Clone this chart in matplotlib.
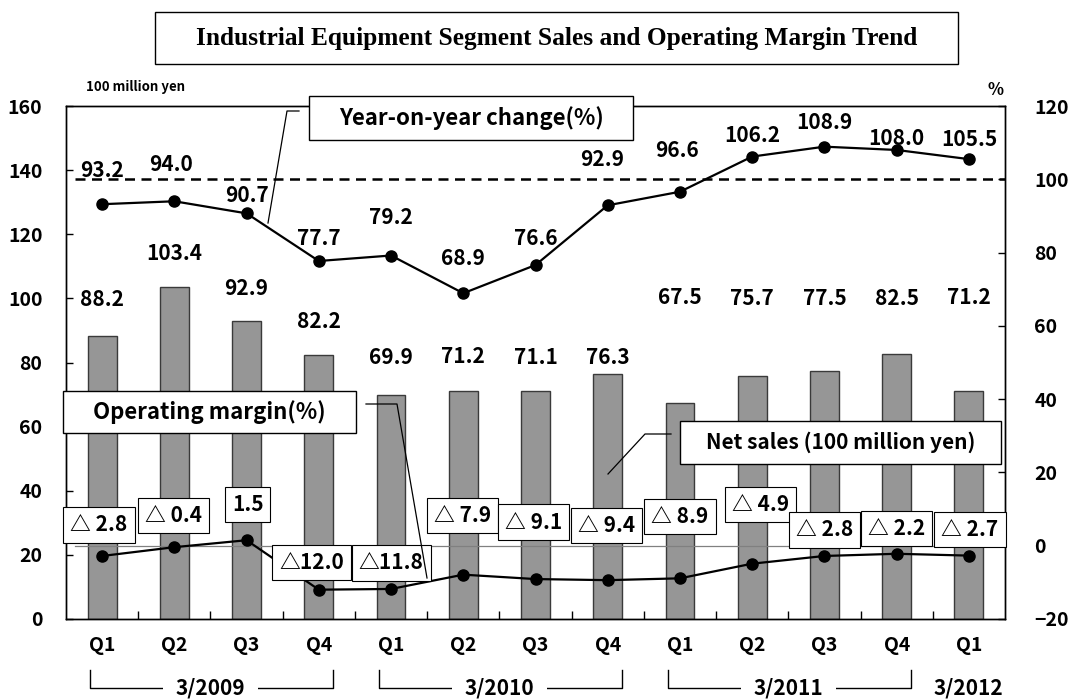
import numpy as np
import matplotlib
matplotlib.use("Agg")
import matplotlib.pyplot as plt
from matplotlib.patches import Rectangle
from matplotlib.lines import Line2D

plt.rcParams['font.family'] = ['Noto Sans CJK JP', 'DejaVu Sans']
plt.rcParams['font.weight'] = 'bold'

##### Data #####
quarters = ['Q1', 'Q2', 'Q3', 'Q4', 'Q1', 'Q2', 'Q3', 'Q4', 'Q1', 'Q2', 'Q3', 'Q4', 'Q1']
fiscal_years = ['3/2009', '3/2010', '3/2011', '3/2012']
year_spans = [(0, 3), (4, 7), (8, 11), (12, 12)]
net_sales = [88.2, 103.4, 92.9, 82.2, 69.9, 71.2, 71.1, 76.3, 67.5, 75.7, 77.5, 82.5, 71.2]
yoy_change = [93.2, 94.0, 90.7, 77.7, 79.2, 68.9, 76.6, 92.9, 96.6, 106.2, 108.9, 108.0, 105.5]
op_margin = [-2.8, -0.4, 1.5, -12.0, -11.8, -7.9, -9.1, -9.4, -8.9, -4.9, -2.8, -2.2, -2.7]

##### Label offsets (pixels) #####
sales_dy = [37, 34, 33, 34, 37, 34, 34, 17, 105, 78, 72, 56, 93]
yoy_dx = [0, -3, 0, 0, 0, 0, 0, -6, -3, 0, 0, 0, 0]
yoy_dy = [34, 37, 18, 22, 38, 35, 27, 46, 41, 21, 24, 11, 20]
op_dx = [-3, -1, 1, -7, 0, -1, -2, -1, 0, 8, 0, 0, 1]
op_dy = [31, 32, 36, 27, 26, 59, 57, 55, 62, 59, 26, 25, 26]

W, H = 1068, 700
PX = 72.0 / 100  # points per pixel


def fx(px):
    return px / W


def fy(py):
    return 1 - py / H


fig = plt.figure(figsize=(W / 100, H / 100), dpi=100)
ax = fig.add_axes([fx(66), fy(619), (1005 - 66) / W, 513 / H])
ax2 = ax.twinx()

x = np.arange(len(quarters))
ax.bar(x, net_sales, width=0.4, color='#969696', edgecolor='#3a3a3a', linewidth=1, zorder=2)
ax.set_xlim(-0.5, len(quarters) - 0.5)
ax.set_ylim(0, 160)
ax.set_yticks(range(0, 161, 20))
ax.set_xticks(x, quarters)
ax.set_xticks(np.arange(0.5, len(quarters) - 0.5, 1), minor=True)
ax.tick_params(axis='x', which='major', length=0, pad=12, labelsize=14)
ax.tick_params(axis='x', which='minor', direction='in', length=6, width=1)
ax.tick_params(axis='y', direction='in', length=5, width=1, pad=17, labelsize=14)

ax2.set_ylim(-20, 120)
ax2.set_yticks(range(-20, 121, 20))
ax2.tick_params(axis='y', direction='in', length=5, width=1, pad=21, labelsize=14)

for a in (ax, ax2):
    for s in a.spines.values():
        s.set_linewidth(1)
        s.set_color('black')

ax2.axhline(100, xmin=0.01, xmax=1, color='black', lw=1.8, ls=(0, (4, 2.6)), zorder=1)
ax2.axhline(0, xmin=0.01, xmax=1, color='#808080', lw=0.9, zorder=1)

ax2.plot(x, yoy_change, '-o', color='black', lw=1.6, ms=8, zorder=3)
ax2.plot(x, op_margin, '-o', color='black', lw=1.6, ms=8, zorder=3)

# bar value labels
for i, v in enumerate(net_sales):
    ax.annotate('%.1f' % v, xy=(i, v), xytext=(0, sales_dy[i] * PX), textcoords='offset points',
                ha='center', va='center', fontsize=15, annotation_clip=False)

# year-on-year labels
for i, v in enumerate(yoy_change):
    ax2.annotate('%.1f' % v, xy=(i, v), xytext=(yoy_dx[i] * PX, yoy_dy[i] * PX),
                 textcoords='offset points', ha='center', va='center', fontsize=15, zorder=4)

# operating margin labels in boxes
for i, v in enumerate(op_margin):
    if v < 0:
        txt = '△%4.1f' % abs(v)
    else:
        txt = '%.1f' % v
    ax2.annotate(txt, xy=(i, v), xytext=(op_dx[i] * PX, op_dy[i] * PX),
                 textcoords='offset points', ha='center', va='center', fontsize=15, zorder=5,
                 bbox=dict(boxstyle='square,pad=0.34', fc='white', ec='black', lw=0.8))

# fiscal year brackets under the axis
trans = ax.get_xaxis_transform()
y_top = -51 / 513
y_line = -69 / 513
for lbl, (a, b) in zip(fiscal_years, year_spans):
    if b > a:
        ax.plot([a - 0.17, a - 0.17, b + 0.2, b + 0.2], [y_top, y_line, y_line, y_top],
                transform=trans, clip_on=False, color='black', lw=1)
        ax.text((a + b) / 2, y_line, lbl, transform=trans, ha='center', va='center', fontsize=15,
                bbox=dict(boxstyle='square,pad=0.6', fc='white', ec='none'))
    else:
        ax.text(a, y_line, lbl, transform=trans, ha='center', va='center', fontsize=15)

# unit labels
fig.text(fx(136), fy(87), '100 million yen', fontsize=9.5, ha='center', va='center')
fig.text(fx(996), fy(90), '%', fontsize=12, ha='center', va='center')


def callout(x0, y0, x1, y1, text, leader, fontsize=15, family=None):
    fig.add_artist(Rectangle((fx(x0), fy(y1)), (x1 - x0) / W, (y1 - y0) / H,
                             transform=fig.transFigure, fc='white', ec='black', lw=1, zorder=6))
    kw = {}
    if family is not None:
        kw['family'] = family
    fig.text(fx((x0 + x1) / 2), fy((y0 + y1) / 2), text, fontsize=fontsize, ha='center',
             va='center', zorder=7, **kw)
    if leader:
        xs = [fx(p[0]) for p in leader]
        ys = [fy(p[1]) for p in leader]
        fig.add_artist(Line2D(xs, ys, transform=fig.transFigure, color='black', lw=0.9, zorder=6))


# title
callout(155, 12, 958, 64, 'Industrial Equipment Segment Sales and Operating Margin Trend', None,
        fontsize=18.3, family='Liberation Serif')
callout(309, 96, 633, 140, 'Year-on-year change(%)', [(299, 111), (287, 111), (268, 223)], fontsize=16)
callout(63, 391, 356, 433, 'Operating margin(%)', [(366, 404), (397, 404), (427, 578)], fontsize=16)
callout(680, 421, 1001, 464, 'Net sales (100 million yen)', [(671, 434), (645, 434), (608, 474)])

fig.savefig('out.png', dpi=100)
